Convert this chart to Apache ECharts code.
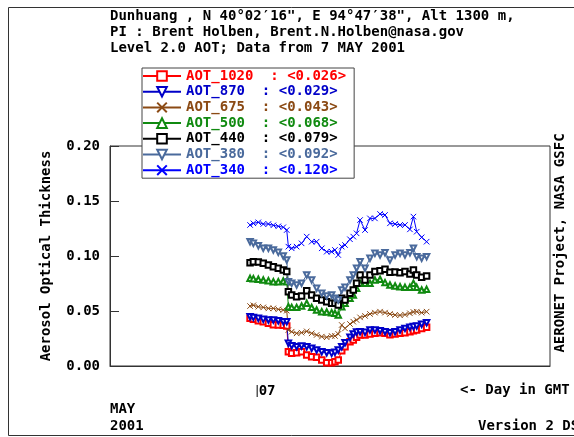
<!DOCTYPE html>
<html><head><meta charset="utf-8">
<script src="https://cdn.jsdelivr.net/npm/echarts@6/dist/echarts.min.js"></script>
<style>html,body{margin:0;padding:0;background:#fff}#c{width:574px;height:437px}</style>
</head><body><div id="c"></div>
<script>
// Hours GMT relative to 7 May 2001 00:00
const hours = [-0.36,-0.18,0.09,0.36,0.64,0.91,1.18,1.45,1.64,1.73,1.91,2.18,2.45,2.73,3.00,3.27,3.55,3.82,4.09,4.27,4.45,4.64,4.82,5.09,5.27,5.45,5.64,5.91,6.18,6.45,6.73,7.00,7.27,7.55,7.82,8.09,8.36,8.55,8.73,9.00,9.27];

const aot1020 = [.0433,.0424,.0412,.0403,.0388,.0376,.0373,.0370,.0364,.0130,.0115,.0121,.0130,.0100,.0085,.0079,.0055,.0030,.0030,.0039,.0055,.0139,.0176,.0221,.0236,.0261,.0282,.0282,.0291,.0297,.0303,.0297,.0285,.0291,.0297,.0303,.0312,.0321,.0327,.0342,.0352];
const aot870 = [.0448,.0442,.0433,.0424,.0418,.0418,.0412,.0403,.0403,.0206,.0185,.0176,.0182,.0176,.0161,.0145,.0130,.0121,.0115,.0124,.0145,.0176,.0212,.0261,.0291,.0309,.0312,.0306,.0327,.0327,.0321,.0312,.0303,.0312,.0327,.0342,.0352,.0358,.0364,.0379,.0394];
const aot675 = [.0545,.0552,.0539,.0533,.0524,.0524,.0515,.0509,.0503,.0327,.0312,.0297,.0303,.0315,.0297,.0282,.0267,.0261,.0273,.0273,.0291,.0373,.0342,.0382,.0403,.0418,.0442,.0455,.0473,.0485,.0494,.0485,.0473,.0464,.0461,.0467,.0479,.0491,.0494,.0485,.0494];
const aot500 = [.0797,.0794,.0788,.0782,.0776,.0767,.0767,.0773,.0767,.0539,.0533,.0533,.0545,.0570,.0533,.0509,.0494,.0491,.0485,.0479,.0464,.0539,.0570,.0615,.0645,.0706,.0752,.0752,.0752,.0782,.0788,.0758,.0736,.0727,.0721,.0715,.0715,.0752,.0715,.0691,.0697];
const aot440 = [.0939,.0948,.0945,.0933,.0918,.0903,.0888,.0873,.0858,.0676,.0645,.0630,.0636,.0685,.0645,.0615,.0600,.0585,.0570,.0570,.0555,.0615,.0600,.0661,.0691,.0752,.0827,.0782,.0827,.0858,.0867,.0879,.0852,.0855,.0848,.0858,.0836,.0873,.0827,.0806,.0818];
const aot380 = [.1130,.1115,.1094,.1070,.1070,.1055,.1033,.1000,.0964,.0767,.0752,.0736,.0752,.0827,.0782,.0706,.0661,.0636,.0645,.0615,.0600,.0691,.0715,.0782,.0827,.0888,.0948,.0888,.0979,.1024,.1009,.1030,.0964,.1009,.1024,.1009,.1030,.1070,.0994,.0979,.0994];
const aot340 = [.1282,.1297,.1306,.1291,.1291,.1279,.1270,.1261,.1236,.1085,.1070,.1085,.1115,.1176,.1130,.1130,.1070,.1039,.1039,.1055,.1009,.1085,.1100,.1152,.1176,.1206,.1327,.1236,.1342,.1342,.1382,.1373,.1297,.1291,.1282,.1282,.1242,.1358,.1221,.1170,.1130];

const seriesNames = ['AOT_1020','AOT_870','AOT_675','AOT_500','AOT_440','AOT_380','AOT_340'];
const meanLabels = ['0.026','0.029','0.043','0.068','0.079','0.092','0.120'];
const seriesValues = [aot1020, aot870, aot675, aot500, aot440, aot380, aot340];
const yTicks = [0, 0.05, 0.10, 0.15, 0.20];
const titleLines = [
  'Dunhuang , N 40\u00b002\u203216", E 94\u00b047\u203238", Alt 1300 m,',
  'PI : Brent Holben, Brent.N.Holben@nasa.gov',
  'Level 2.0 AOT; Data from 7 MAY 2001'
];

const colors = ['#ff0000','#0000c8','#8b4a14','#108a10','#000000','#4a6a9c','#0000ff'];
const XPATH = 'path://M0,0L10,10M0,10L10,0';
const symbols = ['emptyRect','emptyTriangle',XPATH,'emptyTriangle','emptyRect','emptyTriangle',XPATH];
const rotations = [0,180,0,0,0,180,0];
const FONT = 'DejaVu Sans Mono';

const chart = echarts.init(document.getElementById('c'), null, {renderer:'canvas'});

const series = seriesNames.map((n,i)=>({
  name:n, type:'line', animation:false,
  data: hours.map((h,k)=>[h, seriesValues[i][k]]),
  symbol: symbols[i], symbolSize: 5.5, symbolRotate: rotations[i],
  showAllSymbol: true,
  lineStyle:{color:colors[i], width:1},
  itemStyle:{color:colors[i], borderColor:colors[i], borderWidth:1}
}));

function legendText(n){
  const i = seriesNames.indexOf(n);
  return n + '  : <' + meanLabels[i] + '>';
}

const txt = (t,x,y,extra)=>Object.assign({type:'text', silent:true, style:{text:t, x:x, y:y, fill:'#000', font:'bold 14px "'+FONT+'"', textVerticalAlign:'middle'}}, extra||{});

const option = {
  backgroundColor:'#fff',
  animation:false,
  grid:{left:110, right:24, top:146, bottom:71, show:true, borderColor:'#333', borderWidth:1},
  legend:{
    orient:'vertical', left:142, top:68, itemWidth:38, itemHeight:12, itemGap:1.7,
    padding:[1,8,1,0], borderColor:'#444', borderWidth:1, backgroundColor:'#fff', borderRadius:0,
    selectedMode:false,
    data: seriesNames.map((n,i)=>({name:n, textStyle:{color:colors[i]}})),
    formatter: legendText,
    textStyle:{fontFamily:FONT, fontWeight:'bold', fontSize:14, lineHeight:14}
  },
  xAxis:{
    type:'value', min:-8, max:16, interval:8,
    splitLine:{show:false}, axisTick:{show:false},
    axisLine:{onZero:false, lineStyle:{color:'#333'}},
    axisLabel:{
      margin:18, align:'left',
      formatter: v => v===0 ? '{b| }{t|07}' : '',
      rich:{
        b:{width:1, height:12, backgroundColor:'#000', fontSize:1},
        t:{fontFamily:FONT, fontWeight:'bold', fontSize:14, color:'#000', padding:[0,0,0,1]}
      }
    }
  },
  yAxis:{
    type:'value', min:yTicks[0], max:yTicks[yTicks.length-1], interval:0.05,
    splitLine:{show:false},
    axisLine:{show:true, onZero:false, lineStyle:{color:'#333'}},
    axisTick:{show:true, inside:true, length:9, lineStyle:{color:'#333'}},
    axisLabel:{margin:10, color:'#000', fontFamily:FONT, fontWeight:'bold', fontSize:14, formatter:v=>v.toFixed(2)},
    name:'Aerosol Optical Thickness', nameLocation:'middle', nameGap:57, nameRotate:90,
    nameTextStyle:{fontFamily:FONT, fontWeight:'bold', fontSize:14, color:'#000'}
  },
  graphic:[
    {type:'rect', silent:true, shape:{x:8.5, y:7.5, width:640, height:428}, style:{fill:'none', stroke:'#333', lineWidth:1}},
    txt(titleLines[0],110,16),
    txt(titleLines[1],110,32),
    txt(titleLines[2],110,48),
    txt('<- Day in GMT',460,390),
    txt('MAY',110,409),
    txt('2001',110,426),
    txt('Version 2 DS',478,426),
    {type:'text', silent:true, x:560, y:243, rotation:Math.PI/2,
     style:{text:'AERONET Project, NASA GSFC', fill:'#000', font:'bold 14px "'+FONT+'"', textAlign:'center', textVerticalAlign:'middle'}}
  ],
  series: series
};
chart.setOption(option);
</script>
</body></html>
